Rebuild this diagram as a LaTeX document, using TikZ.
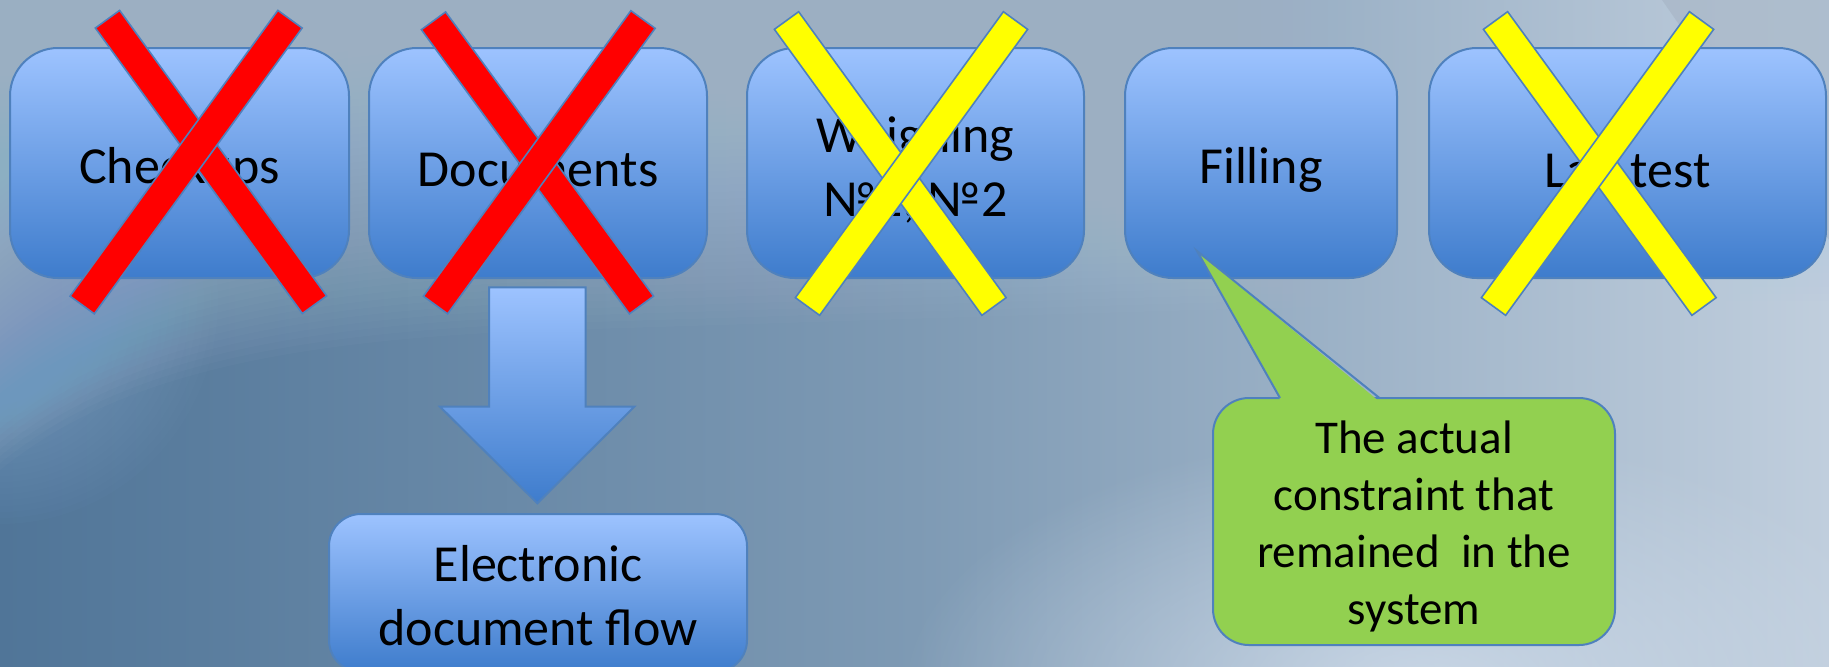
\documentclass[tikz,border=0pt]{standalone}
\usepackage{fontspec}
\setmainfont{Carlito}
\usetikzlibrary{calc,fadings}
\definecolor{boxtop}{RGB}{157,195,255}
\definecolor{boxbot}{RGB}{62,124,204}
\definecolor{edgeblue}{RGB}{79,129,189}
\definecolor{xred}{RGB}{255,0,0}
\definecolor{xyel}{RGB}{255,255,0}
\definecolor{callg}{RGB}{146,208,80}
\definecolor{bgA}{RGB}{80,117,152}
\definecolor{bgB}{RGB}{126,154,180}
\definecolor{bgC}{RGB}{192,206,221}
\definecolor{bgTop}{RGB}{184,203,222}
\definecolor{bgLight}{RGB}{140,182,220}
\definecolor{bgGlow}{RGB}{210,222,236}
\definecolor{bgWedge}{RGB}{166,180,196}
\tikzfading[name=softglow, inner color=transparent!20, outer color=transparent!100]
\newcommand\mybar[3]{%
  \filldraw[fill=#3, draw=edgeblue, line width=0.8pt]
    ($(#1)!7.5pt!90:(#2)$) -- ($(#1)!7.5pt!-90:(#2)$) --
    ($(#2)!7.5pt!90:(#1)$) -- ($(#2)!7.5pt!-90:(#1)$) -- cycle;}
\begin{document}
\begin{tikzpicture}[x=0.5pt,y=-0.5pt,
  stagebox/.style={draw=edgeblue, line width=1pt, rounded corners=24pt,
    top color=boxtop, bottom color=boxbot, inner sep=0pt, outer sep=0pt,
    minimum height=115pt},
  flowbox/.style={stagebox, rounded corners=16pt},
  boxtext/.style={inner sep=0pt, align=center, font=\fontsize{26}{32}\selectfont},
  calloutbox/.style={draw=edgeblue, line width=1pt, rounded corners=18pt,
    fill=callg, inner sep=0pt, outer sep=0pt},
  callouttext/.style={inner sep=0pt, align=center, font=\fontsize{23.5}{28.5}\selectfont},
]
\useasboundingbox (0,0) rectangle (1829,666);
\clip (0,0) rectangle (1829,666);
% background
\shade[left color=bgA, right color=bgC, middle color=bgB] (0,0) rectangle (1829,666);
\foreach \d in {0,7,...,315}{
  \fill[bgTop, opacity=0.034]
    (0,0) -- (0,{470-\d}) .. controls (100,{390-\d}) and (240,{340-\d}) .. (560,{330-\d})
    .. controls (900,{320-\d}) and (1400,{300-\d}) .. (1829,{300-\d})
    -- (1829,0) -- cycle;}
\foreach \r in {0,1,...,24}{
  \fill[bgLight, opacity=0.03] (0,300) ellipse [x radius={50+7*\r}, y radius={80+6*\r}];}
\fill[bgGlow, path fading=softglow] (1420,690) ellipse [x radius=520, y radius=260];
\fill[bgWedge, opacity=0.6] (1662,0) -- (1829,0) -- (1829,240) -- cycle;

% stage boxes
\node[stagebox, minimum width=169.5pt] (chk) at (179.5,163) {};
\node[stagebox, minimum width=169pt] (doc) at (538,163) {};
\node[stagebox, minimum width=168.5pt] (wgh) at (915.5,163) {};
\node[stagebox, minimum width=136pt] (fil) at (1261,163) {};
\node[stagebox, minimum width=198.5pt] (lab) at (1627.5,163) {};
\node[boxtext] (chk-t) at ($(chk)+(0,7)$) {Checkups};
\node[boxtext] (doc-t) at ($(doc)+(0,7)$) {Documents};
\node[boxtext] (wgh-t) at ($(wgh)+(0,7)$) {Weighing\\№1, №2};
\node[boxtext] (fil-t) at ($(fil)+(0,7)$) {Filling};
\node[boxtext] (lab-t) at ($(lab)+(0,7)$) {Lab test};

% crosses
\coordinate (c1a) at (107.5,19.2); \coordinate (c1b) at (314.5,304.7);
\coordinate (c2a) at (290,19.2);   \coordinate (c2b) at (82.2,305);
\coordinate (d1a) at (433.5,20.8); \coordinate (d1b) at (641.5,305);
\coordinate (d2a) at (643,19.5);   \coordinate (d2b) at (435.5,305);
\coordinate (w1a) at (786.5,20.5); \coordinate (w1b) at (994,306.5);
\coordinate (w2a) at (1015.5,20.5);\coordinate (w2b) at (807.5,306.5);
\coordinate (l1a) at (1495.5,20.5);\coordinate (l1b) at (1704,306.5);
\coordinate (l2a) at (1701.5,20.5);\coordinate (l2b) at (1493.5,306.5);
\mybar{c1a}{c1b}{xred}\mybar{c2a}{c2b}{xred}
\mybar{d1a}{d1b}{xred}\mybar{d2a}{d2b}{xred}
\mybar{w1a}{w1b}{xyel}\mybar{w2a}{w2b}{xyel}
\mybar{l1a}{l1b}{xyel}\mybar{l2a}{l2b}{xyel}

% down arrow
\path[draw=edgeblue, line width=1pt, top color=boxtop, bottom color=boxbot]
  (489,287.3) -- (585.7,287.3) -- (585.7,406.7) -- (634.3,406.7) --
  (537.3,503.3) -- (440,406.7) -- (489,406.7) -- cycle;

% electronic flow box
\node[flowbox, minimum width=209pt, minimum height=79pt] (edf) at (538,593) {};
\node[boxtext] (edf-t) at ($(edf)+(0,3)$) {Electronic\\document flow};

% callout
\node[calloutbox, minimum width=201pt, minimum height=123.5pt] (call) at (1414,521.5) {};
\node[callouttext] (call-t) at ($(call)+(0,5)$)
  {The actual\\constraint that\\remained\ \ in the\\system};
\coordinate (tip) at (1197,251);
\coordinate (pb1) at (1280,398);
\coordinate (pb2) at (1379.5,398);
\fill[callg] (tip) -- ($(pb1)+(0.8,3)$) -- ($(pb2)+(-0.8,3)$) -- cycle;
\draw[edgeblue, line width=1pt, line join=miter] (pb1) -- (tip) -- (pb2);
\end{tikzpicture}
\end{document}
